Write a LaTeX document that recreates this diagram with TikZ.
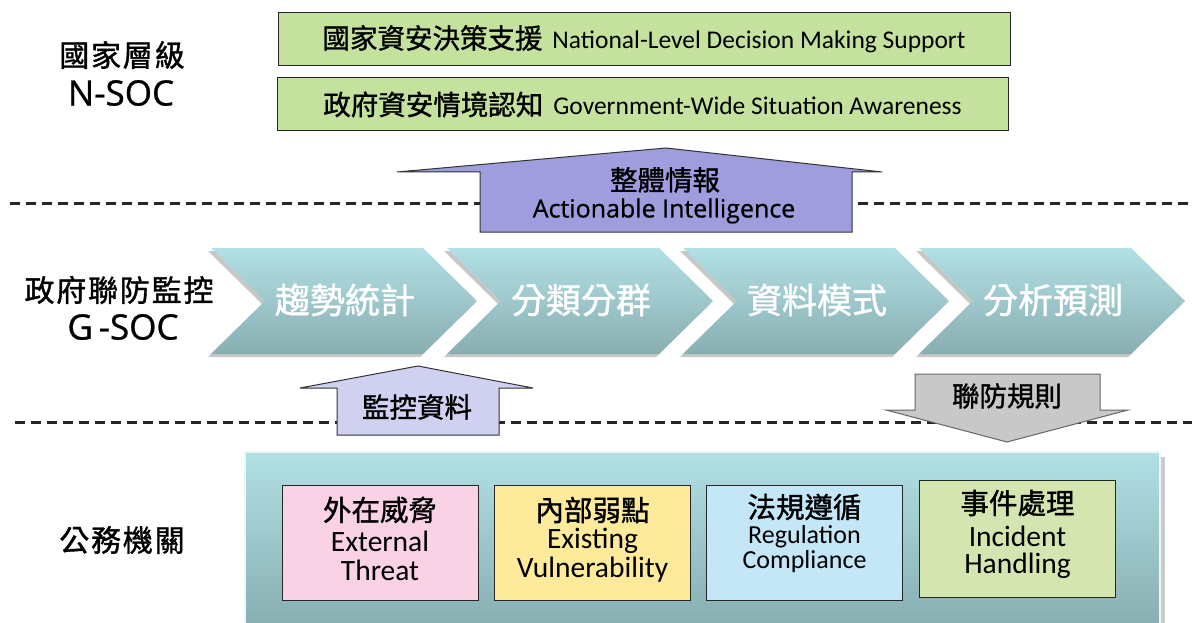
\documentclass[tikz,border=0pt]{standalone}
\usepackage{fontspec}
\setmainfont{Carlito}
\newfontfamily\cjk{Noto Sans CJK TC}
\newfontfamily\cjkm{Noto Sans CJK TC}[FakeBold=1.2]
\newfontfamily\cjkl{Noto Sans CJK TC}[FakeBold=1.2,LetterSpace=6]
\newfontfamily\osans{Open Sans}[FakeBold=0.8]
\definecolor{topgreen}{HTML}{C4E19E}
\definecolor{bigarrow}{HTML}{9F9DDD}
\definecolor{smallarrow}{HTML}{D0D0F1}
\definecolor{grayarrow}{HTML}{C8C8C8}
\definecolor{chevtop}{HTML}{B2E0E5}
\definecolor{chevbot}{HTML}{88AEB1}
\definecolor{pinkbox}{HTML}{F9D2E5}
\definecolor{yellowbox}{HTML}{FDEA9B}
\definecolor{bluebox}{HTML}{C4E7F8}
\definecolor{greenbox}{HTML}{D4E5B0}
\tikzset{
  topbox/.style={draw=black!85, line width=1pt, fill=topgreen, minimum height=53pt, inner sep=0pt},
  dashline/.style={line width=3pt, dash pattern=on 10pt off 6pt, black!85},
  chev/.style={top color=chevtop, bottom color=chevbot, draw=none},
  chevtext/.style={text=white, font=\cjkm\fontsize{35}{38}\selectfont},
  innerbox/.style={draw=black!85, line width=1pt, minimum width=196pt, minimum height=115pt, inner sep=0pt},
  lcjk/.style={font=\cjkl\fontsize{30}{34}\selectfont},
  llat/.style={font=\osans\fontsize{35}{38}\selectfont},
  arrowtext/.style={font=\cjkm\fontsize{27.5}{30}\selectfont},
  boxcjk/.style={font=\cjkm\fontsize{28.5}{30}\selectfont},
  boxlat/.style={font=\fontsize{29.5}{30}\selectfont},
  boxlatsm/.style={font=\fontsize{26}{28}\selectfont}
}
\begin{document}
\begin{tikzpicture}[x=1pt,y=-1pt]
\useasboundingbox (0,0) rectangle (1192,623);
\fill[white] (0,0) rectangle (1192,623);

% left labels
\node[lcjk] (nsoc1) at (122,55) {國家層級};
\node[llat] (nsoc2) at (121,93) {N-SOC};
\node[lcjk] (gsoc1) at (119,290) {政府聯防監控};
\node[llat] (gsoc2) at (123,327) {G\,-SOC};
\node[lcjk] (agency) at (122,540) {公務機關};

% top boxes
\node[topbox, minimum width=732pt] (nat) at (644,39)
  {{\cjkm\fontsize{27.5}{30}\selectfont 國家資安決策支援}\hspace{10pt}{\fontsize{25.5}{28}\selectfont National-Level Decision Making Support}};
\node[topbox, minimum width=731pt] (gov) at (642.5,104.5)
  {{\cjkm\fontsize{27.5}{30}\selectfont 政府資安情境認知}\hspace{10pt}{\fontsize{25.5}{28}\selectfont Government-Wide Situation Awareness}};

% dashed lines
\draw[dashline] (10,203) -- (1192,203);
\draw[dashline] (15,422) -- (1192,422);

% big up arrow
\draw[fill=bigarrow, draw=black!80, line width=1pt]
  (666,148) -- (882,172) -- (852,172) -- (852,232) -- (480,232) -- (480,172) -- (397,172) -- cycle;
\node[arrowtext] (intel1) at (665,180) {整體情報};
\node[font=\osans\fontsize{25}{28}\selectfont] (intel2) at (664,211) {Actionable Intelligence};

% chevrons
\foreach \i/\t in {0/趨勢統計,1/分類分群,2/資料模式,3/分析預測}{
  \pgfmathsetmacro{\L}{211+236*\i}
  \fill[black!22] (\L-3,251) -- (\L+209,251) -- (\L+263,304) -- (\L+209,357) -- (\L-3,357) -- (\L+51,304) -- cycle;
  \path[chev] (\L,248) -- (\L+212,248) -- (\L+266,301) -- (\L+212,354) -- (\L,354) -- (\L+54,301) -- cycle;
  \node[chevtext] (c\i) at (\L+134,300) {\t};
}

% small up arrow
\draw[fill=smallarrow, draw=black!80, line width=1pt]
  (418,366) -- (533,388) -- (499,388) -- (499,435) -- (337,435) -- (337,388) -- (300,388) -- cycle;
\node[arrowtext] (mon) at (417,407) {監控資料};

% gray down arrow
\draw[fill=grayarrow, draw=black!60, line width=1pt]
  (915,374) -- (1100,374) -- (1100,410) -- (1128,410) -- (1007,442) -- (886,410) -- (915,410) -- cycle;
\node[arrowtext] (rule) at (1007,396) {聯防規則};

% bottom container
\fill[black!20] (250,457) rectangle (1165,623);
\path[top color=chevtop, bottom color=chevbot, draw=white!75!chevtop, line width=1.5pt] (245,452) rectangle (1160,626);

% inner boxes
\node[innerbox, fill=pinkbox] (ext) at (380,542.5) {};
\node[boxcjk] (ext1) at (380,510) {外在威脅};
\node[boxlat] (ext2) at (380,541) {External};
\node[boxlat] (ext3) at (380,570) {Threat};

\node[innerbox, fill=yellowbox] (vul) at (592.5,542.5) {};
\node[boxcjk] (vul1) at (592.5,510) {內部弱點};
\node[boxlat] (vul2) at (592.5,541) {Existing};
\node[boxlat] (vul3) at (592.5,570) {Vulnerability};

\node[innerbox, fill=bluebox] (reg) at (804.5,542.5) {};
\node[boxcjk] (reg1) at (804.5,507) {法規遵循};
\node[boxlatsm] (reg2) at (804.5,537) {Regulation};
\node[boxlatsm] (reg3) at (804.5,562) {Compliance};

\node[innerbox, fill=greenbox, minimum height=117pt] (inc) at (1017.5,538.5) {};
\node[boxcjk] (inc1) at (1017.5,503) {事件處理};
\node[boxlat] (inc2) at (1017.5,536) {Incident};
\node[boxlat] (inc3) at (1017.5,566) {Handling};
\end{tikzpicture}
\end{document}
